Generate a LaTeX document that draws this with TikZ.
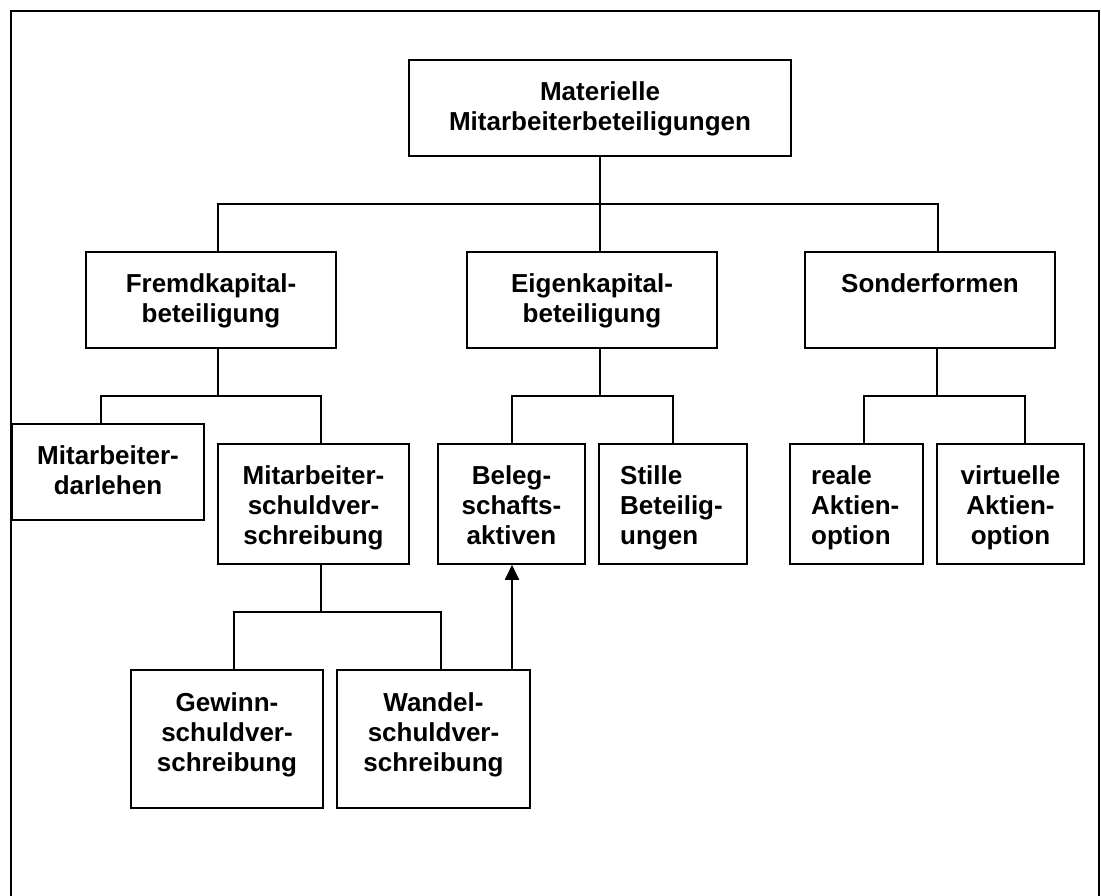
\documentclass[tikz,border=0pt]{standalone}
\usepackage{fontspec}
\setmainfont{Liberation Sans}
\usetikzlibrary{arrows.meta}
\begin{document}
\begin{tikzpicture}[x=1pt,y=-1pt,
  box/.style={draw=black,line width=1.5pt,rectangle,inner sep=0pt},
  txt/.style={inner sep=0pt,font=\fontsize{26}{30}\selectfont\bfseries},
  ctxt/.style={txt,align=center,anchor=north},
  ltxt/.style={txt,align=left,anchor=north west},
  conn/.style={line width=1.5pt,line cap=rect},
  arr/.style={line width=1.8pt,-{Triangle[length=15pt,width=14pt]}}]
\useasboundingbox (0,0) rectangle (1101,895);
% frame
\draw[line width=2pt] (11,896) -- (11,11) -- (1099,11) -- (1099,896);
% boxes: centre, size
\node[box,minimum width=382,minimum height=96] (top) at (600,108) {};
\node[box,minimum width=250,minimum height=96] (fremd) at (211,300) {};
\node[box,minimum width=250,minimum height=96] (eigen) at (592,300) {};
\node[box,minimum width=250,minimum height=96] (sonder) at (930,300) {};
\node[box,minimum width=192,minimum height=96] (darlehen) at (108,472) {};
\node[box,minimum width=191,minimum height=120] (schuld) at (313.5,504) {};
\node[box,minimum width=147,minimum height=120] (beleg) at (511.5,504) {};
\node[box,minimum width=148,minimum height=120] (stille) at (673,504) {};
\node[box,minimum width=133,minimum height=120] (reale) at (856.5,504) {};
\node[box,minimum width=147,minimum height=120] (virtuelle) at (1010.5,504) {};
\node[box,minimum width=192,minimum height=138] (gewinn) at (227,739) {};
\node[box,minimum width=193,minimum height=138] (wandel) at (433.5,739) {};
% texts
\node[ctxt] (top-t) at (600,81.5) {Materielle\\Mitarbeiterbeteiligungen};
\node[ctxt] (fremd-t) at (211,273.5) {Fremdkapital-\\beteiligung};
\node[ctxt] (eigen-t) at (592,273.5) {Eigenkapital-\\beteiligung};
\node[ctxt] (sonder-t) at (930,273.5) {Sonderformen};
\node[ctxt] (darlehen-t) at (108,445.5) {Mitarbeiter-\\darlehen};
\node[ctxt] (schuld-t) at (313.5,465.5) {Mitarbeiter-\\schuldver-\\schreibung};
\node[ctxt] (beleg-t) at (511.5,465.5) {Beleg-\\schafts-\\aktiven};
\node[ltxt] (stille-t) at (620,465.5) {Stille\\Beteilig-\\ungen};
\node[ltxt] (reale-t) at (811,465.5) {reale\\Aktien-\\option};
\node[ctxt] (virtuelle-t) at (1010.5,465.5) {virtuelle\\Aktien-\\option};
\node[ctxt] (gewinn-t) at (227,692.5) {Gewinn-\\schuldver-\\schreibung};
\node[ctxt] (wandel-t) at (433.5,692.5) {Wandel-\\schuldver-\\schreibung};
% connectors level 1
\coordinate (cF) at (218,204);
\coordinate (cS) at (938,204);
\draw[conn] (top.south) -- (top.south |- eigen.north);
\draw[conn] (cF |- fremd.north) -- (cF) -- (cS) -- (cS |- sonder.north);
% Fremdkapital
\coordinate (fv) at (218,396);
\coordinate (fd) at (101,396);
\coordinate (fs) at (321,396);
\draw[conn] (fv |- fremd.south) -- (fv);
\draw[conn] (fd |- darlehen.north) -- (fd) -- (fs) -- (fs |- schuld.north);
% Schuldverschreibung
\coordinate (sv) at (321,612);
\coordinate (sg) at (234,612);
\coordinate (sw) at (441,612);
\draw[conn] (sv |- schuld.south) -- (sv);
\draw[conn] (sg |- gewinn.north) -- (sg) -- (sw) -- (sw |- wandel.north);
% Eigenkapital
\coordinate (ev) at (600,396);
\coordinate (eb) at (512,396);
\coordinate (es) at (673,396);
\draw[conn] (ev |- eigen.south) -- (ev);
\draw[conn] (eb |- beleg.north) -- (eb) -- (es) -- (es |- stille.north);
% Sonderformen
\coordinate (sov) at (937,396);
\coordinate (sor) at (864,396);
\coordinate (sovi) at (1025,396);
\draw[conn] (sov |- sonder.south) -- (sov);
\draw[conn] (sor |- reale.north) -- (sor) -- (sovi) -- (sovi |- virtuelle.north);
% arrow
\draw[arr] (eb |- wandel.north) -- (eb |- beleg.south);
\end{tikzpicture}
\end{document}
